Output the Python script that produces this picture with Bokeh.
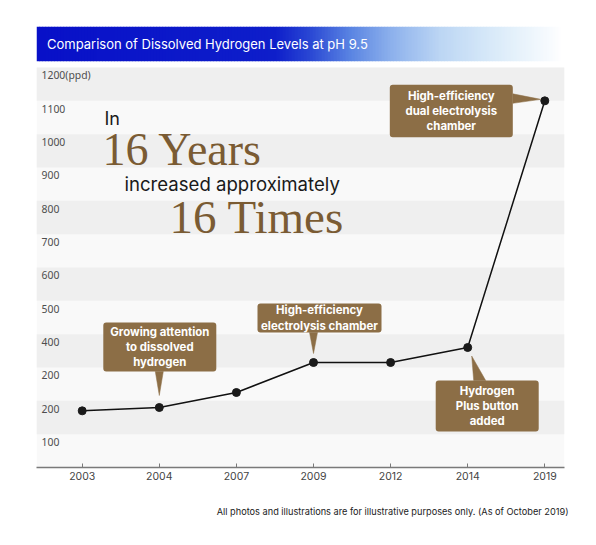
from bokeh.plotting import figure
from bokeh.models import Range1d, FixedTicker, BoxAnnotation, Label, Title
from bokeh.core.properties import value
from bokeh.embed import file_html
from bokeh.resources import INLINE

# ---------------- data ----------------
years = ["2003", "2004", "2007", "2009", "2012", "2014", "2019"]
levels = [170, 180, 225, 315, 315, 360, 1100]
ytick_values = [100, 200, 300, 400, 500, 600, 700, 800, 900, 1000, 1100, 1200]
ytick_labels = ["100", "200", "200", "400", "500", "600", "700", "800", "900", "1000", "1100", "1200(ppd)"]
title_text = "Comparison of Dissolved Hydrogen Levels at pH 9.5"
footnote = "All photos and illustrations are for illustrative purposes only. (As of October 2019)"
notes = [
    "Growing attention\nto dissolved\nhydrogen",
    "High-efficiency\nelectrolysis chamber",
    "High-efficiency\ndual electrolysis\nchamber",
    "Hydrogen\nPlus button\nadded",
]

# ---------------- geometry helpers (screen px -> data) ----------------
X_FIRST, X_STEP = 81.7, 77.1      # px of first category, px between categories
PX_L, PX_R = 36, 564
Y_PER_PX = 3.0                    # data units per px
FRAME_H = 441


def dx(px):
    return (px - X_FIRST) / X_STEP


def dyp(py):
    return (467 - py) * Y_PER_PX


def ax(i, off):
    return i + off / X_STEP


def ay(v, up):
    return v + up * Y_PER_PX


xs = list(range(len(years)))

p = figure(frame_width=PX_R - PX_L, frame_height=FRAME_H,
           min_border_left=PX_L, min_border_right=16,
           min_border_top=26, min_border_bottom=20,
           x_range=Range1d(dx(PX_L), dx(PX_R)),
           y_range=Range1d(0, FRAME_H * Y_PER_PX),
           y_axis_location=None, toolbar_location=None,
           output_backend="svg", background_fill_color="white",
           border_fill_color="white", outline_line_color=None)
p.grid.visible = False

# plot background and bands
x0, x1 = dx(PX_L), dx(PX_R)
p.quad(left=[x0], right=[x1], bottom=[0], top=[1200], fill_color="#f9f9f9", line_color=None)
band_b = [v for v in range(100, 1200, 200)]
p.quad(left=[x0] * len(band_b), right=[x1] * len(band_b), bottom=band_b,
       top=[b + 100 for b in band_b], fill_color="#efefef", line_color=None)

# gradient title bar
stops = [(36, (8, 16, 200)), (275, (14, 30, 202)), (310, (42, 72, 212)),
         (350, (90, 132, 226)), (390, (140, 176, 236)), (440, (188, 214, 244)),
         (495, (218, 235, 249)), (540, (242, 248, 253)), (562, (255, 255, 255))]


def col(px):
    for (a, ca), (b, cb) in zip(stops[:-1], stops[1:]):
        if a <= px <= b:
            t = (px - a) / (b - a)
            c = [round(ca[k] + (cb[k] - ca[k]) * t) for k in range(3)]
            return "#%02x%02x%02x" % tuple(c)
    return "#ffffff"


strip = 3
lefts = list(range(36, 564, strip))
p.quad(left=[dx(l) for l in lefts], right=[dx(l + strip + 0.6) for l in lefts],
       bottom=[dyp(60.7)] * len(lefts), top=[FRAME_H * Y_PER_PX] * len(lefts),
       fill_color=[col(l + strip / 2) for l in lefts], line_color=None)
p.text(x=[dx(46.5)], y=[dyp(43.5)], text=[title_text],
       text_font=value("Inter"), text_font_size="13px", text_color="white",
       text_baseline="middle", text_align="left")

# y tick labels (inside plot)
p.text(x=[dx(41)] * len(ytick_values), y=[v - 23 for v in ytick_values], text=ytick_labels,
       text_font=value("Noto Sans"), text_font_size="10.4px", text_color="#4d4d4d",
       text_baseline="middle", text_align="left")

# headline texts
p.text(x=[dx(104)], y=[dyp(118)], text=["In"], text_font=value("Inter"),
       text_font_size="18px", text_color="#1a1a1a", text_baseline="middle")
p.text(x=[dx(102)], y=[dyp(149)], text=["16 Years"], text_font=value("Liberation Serif"),
       text_font_size="46px", text_color="#7a5b33", text_baseline="middle")
p.text(x=[dx(124)], y=[dyp(183)], text=["increased approximately"], text_font=value("Inter"),
       text_font_size="18.6px", text_color="#1a1a1a", text_baseline="middle")
p.text(x=[dx(169)], y=[dyp(216)], text=["16 Times"], text_font=value("Liberation Serif"),
       text_font_size="47px", text_color="#7a5b33", text_baseline="middle")

# line + markers
p.line(xs, levels, line_color="#111111", line_width=1.5)
p.scatter(xs, levels, size=8, fill_color="#1a1a1a", line_color="#1a1a1a")

# callouts: (index, box left/right px offsets, box top/bottom px up, pointer triangle)
BROWN = "#8c6e46"
callouts = [
    (1, (-56, 57), (85, 36), [(-4, 36), (4, 36), (0, 12)]),
    (3, (-56, 68), (59, 30), [(-4, 30), (4, 30), (0, 9)]),
    (6, (-155, -32), (16, -36.5), [(-32, 7), (-32, -2.5), (-4, 1.5)]),
    (5, (-32, 71), (-33, -84), [(6, -33), (18, -33), (4, -8.5)]),
]
tri_x, tri_y = [], []
for idx, (l, r), (t, b), tri in callouts:
    v = levels[idx]
    tri_x.append([ax(idx, o) for o, _ in tri])
    tri_y.append([ay(v, u) for _, u in tri])
p.patches(tri_x, tri_y, fill_color=BROWN, line_color=BROWN, line_width=0.5)
for k, (idx, (l, r), (t, b), tri) in enumerate(callouts):
    v = levels[idx]
    box = BoxAnnotation(left=ax(idx, l), right=ax(idx, r), top=ay(v, t), bottom=ay(v, b),
                        fill_color=BROWN, fill_alpha=1.0, line_color=None, border_radius=3)
    p.add_layout(box)
for k, (idx, (l, r), (t, b), tri) in enumerate(callouts):
    v = levels[idx]
    lab = Label(x=ax(idx, (l + r) / 2), y=ay(v, (t + b) / 2), text=notes[k],
                text_font="Inter", text_font_size="11.4px", text_font_style="bold",
                text_color="white", text_align="center", text_baseline="middle",
                text_line_height=1.1)
    p.add_layout(lab)

# x axis
p.xaxis.ticker = FixedTicker(ticks=xs)
p.xaxis.major_label_overrides = {i: y for i, y in enumerate(years)}
p.xaxis.axis_line_color = "#7a7a7a"
p.xaxis.axis_line_width = 1.6
p.xaxis.major_tick_line_color = "#7a7a7a"
p.xaxis.major_tick_in = 4
p.xaxis.major_tick_out = 0
p.xaxis.minor_tick_line_color = None
p.xaxis.major_label_text_font = "Inter"
p.xaxis.major_label_text_font_size = "10.5px"
p.xaxis.major_label_text_color = "#444444"
p.xaxis.major_label_standoff = 4

# footnote
p.add_layout(Title(text=footnote, align="right", text_font="Inter", text_font_size="9.2px",
                   text_font_style="normal", text_color="#222222", standoff=42, offset=-4), "below")

open("out.html", "w").write(file_html(p, INLINE))
